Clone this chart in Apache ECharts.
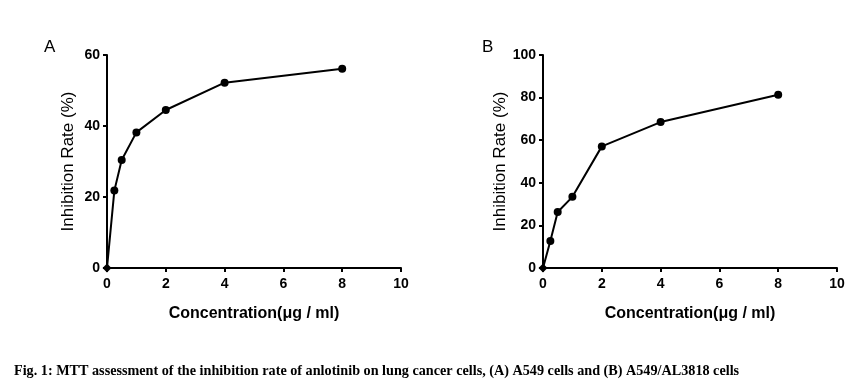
<!DOCTYPE html>
<html><head><meta charset="utf-8">
<script src="https://cdn.jsdelivr.net/npm/echarts@6/dist/echarts.min.js"></script>
<style>html,body{margin:0;padding:0;background:#fff}#c{width:866px;height:392px}</style>
</head><body><div id="c"></div>
<script>
const concentrations = [0, 0.25, 0.5, 1, 2, 4, 8];
const rateA549 = [0, 21.8, 30.4, 38.2, 44.5, 52.2, 56.1];
const rateA549AL = [0, 12.7, 26.3, 33.4, 57.1, 68.5, 81.3];
const xTicks = [0, 2, 4, 6, 8, 10];
const yTicksA = [0, 20, 40, 60];
const yTicksB = [0, 20, 40, 60, 80, 100];
const xName = 'Concentration(μg / ml)';
const yName = 'Inhibition Rate (%)';
const panelLabels = ['A', 'B'];
const caption = 'Fig. 1: MTT assessment of the inhibition rate of anlotinib on lung cancer cells, (A) A549 cells and (B) A549/AL3818 cells';

const FONT = '"Liberation Sans", Arial, sans-serif';
function xAxis(gi) {
  return {
    type: 'value', gridIndex: gi, min: xTicks[0], max: xTicks[xTicks.length - 1], interval: 2,
    name: xName, nameLocation: 'middle', nameGap: 38,
    nameTextStyle: { fontFamily: FONT, fontWeight: 'bold', fontSize: 16, color: '#000' },
    axisLine: { lineStyle: { color: '#000', width: 2 } },
    axisTick: { length: 4, lineStyle: { color: '#000', width: 2 } },
    axisLabel: { fontFamily: FONT, fontWeight: 'bold', fontSize: 14, color: '#000', margin: 9 },
    splitLine: { show: false }
  };
}
function yAxis(gi, ticks) {
  return {
    type: 'value', gridIndex: gi, min: ticks[0], max: ticks[ticks.length - 1], interval: 20,
    name: yName, nameLocation: 'middle', nameGap: 30, nameRotate: 90,
    nameTextStyle: { fontFamily: FONT, fontSize: 17, color: '#000' },
    axisLine: { show: true, lineStyle: { color: '#000', width: 2 } },
    axisTick: { show: true, length: 4, lineStyle: { color: '#000', width: 2 } },
    axisLabel: { fontFamily: FONT, fontWeight: 'bold', fontSize: 14, color: '#000', margin: 7 },
    splitLine: { show: false }
  };
}
function seriesData(vals) {
  return concentrations.map((c, i) => i === 0
    ? { value: [c, vals[i]], symbol: 'diamond', symbolSize: 9 }
    : [c, vals[i]]);
}
function series(gi, vals) {
  return {
    type: 'line', xAxisIndex: gi, yAxisIndex: gi, data: seriesData(vals),
    symbol: 'circle', symbolSize: 8, showAllSymbol: true,
    lineStyle: { color: '#000', width: 2 }, itemStyle: { color: '#000' },
    clip: false, animation: false
  };
}
const chart = echarts.init(document.getElementById('c'), null, { renderer: 'canvas' });
chart.setOption({
  animation: false,
  backgroundColor: '#fff',
  grid: [
    { left: 107, right: 465, top: 55, bottom: 124 },
    { left: 543, right: 29, top: 55, bottom: 124 }
  ],
  xAxis: [xAxis(0), xAxis(1)],
  yAxis: [yAxis(0, yTicksA), yAxis(1, yTicksB)],
  series: [series(0, rateA549), series(1, rateA549AL)],
  graphic: [
    { type: 'text', left: 44, top: 39, style: { text: panelLabels[0], font: '17px ' + FONT, fill: '#000' } },
    { type: 'text', left: 482, top: 39, style: { text: panelLabels[1], font: '17px ' + FONT, fill: '#000' } },
    { type: 'text', left: 14, top: 364, style: { text: caption, font: 'bold 14.2px "Liberation Serif", "Times New Roman", serif', fill: '#000' } }
  ]
});
</script></body></html>
